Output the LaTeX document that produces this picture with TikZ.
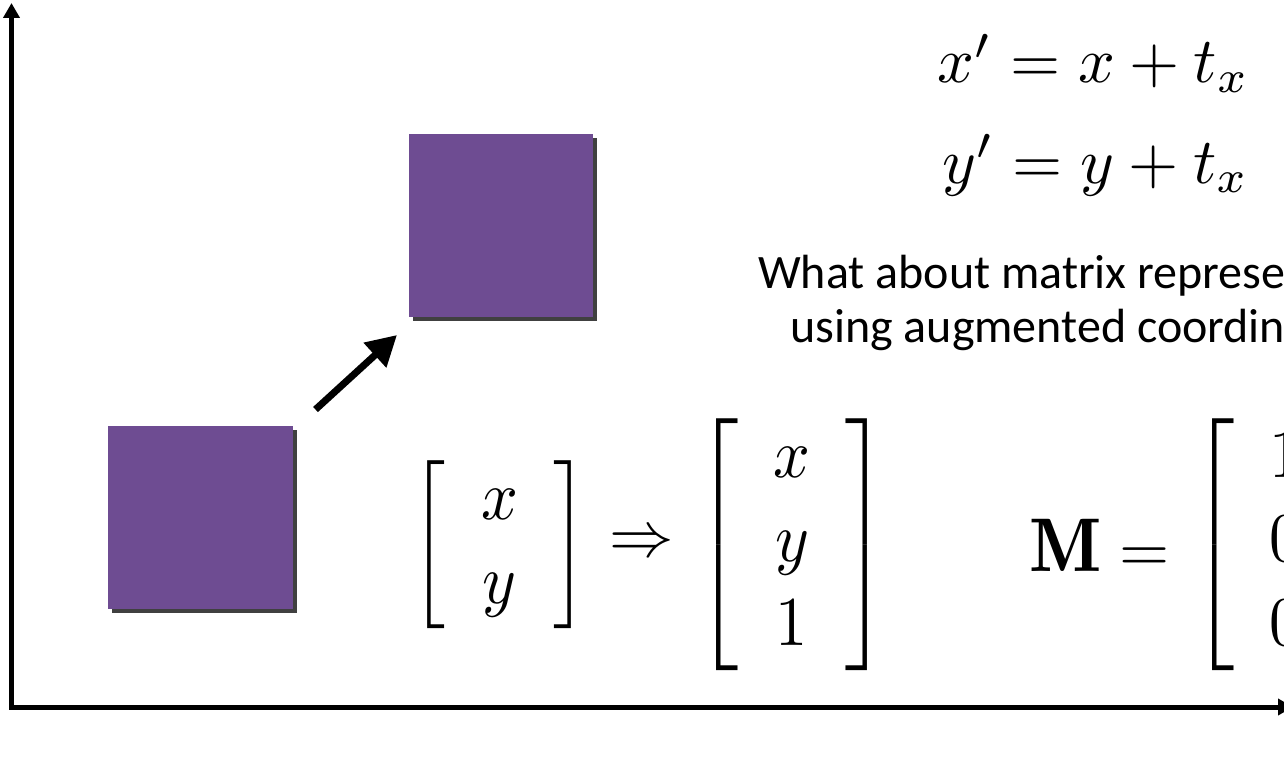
\documentclass[tikz,border=0pt]{standalone}
\usepackage{amsmath}
\usepackage{fontspec}
\setsansfont{Carlito}
\usetikzlibrary{arrows.meta,shadows}
\definecolor{felt}{RGB}{110,76,146}
\newcommand{\bigeq}[1]{\scalebox{6.45}{$#1$}}
\newcommand{\bigvec}[1]{\scalebox{6.45}[7.0]{$\arraycolsep=5.5pt\renewcommand{\arraystretch}{1.0}#1$}}
\tikzset{
  axisline/.style={line width=5pt, line join=miter,
    {Triangle[length=15pt,width=16pt]}-{Triangle[length=15pt,width=16pt]}},
  movearrow/.style={line width=7pt, -{Triangle[length=30pt,width=32pt]}},
  feltsquare/.style={fill=felt, draw=none, inner sep=0pt,
    drop shadow={shadow xshift=4pt, shadow yshift=-4pt, fill=black, opacity=0.75}},
  eq/.style={inner sep=0pt},
  note/.style={inner sep=0pt, font=\sffamily\fontsize{48}{54}\selectfont}
}
\begin{document}
\begin{tikzpicture}[x=1pt,y=-1pt]
\useasboundingbox (0,0) rectangle (1284,765);
\clip (0,0) rectangle (1284,765);
\fill[white] (0,0) rectangle (1284,765);
% axes
\coordinate (ytop) at (11.5,3);
\coordinate (orig) at (11.5,707);
\coordinate (xend) at (1293,707);
\draw[axisline] (ytop) -- (orig) -- (xend);
% squares
\node[feltsquare, minimum width=185pt, minimum height=183pt] (sqA) at (200.5,517.5) {};
\node[feltsquare, minimum width=184pt, minimum height=183pt] (sqB) at (501,225.5) {};
% translation arrow
\coordinate (mvA) at (315.5,409.5);
\coordinate (mvB) at (397,335);
\draw[movearrow] (mvA) -- (mvB);
% equations
\node[eq, anchor=base west] (eqx) at (937,83) {\bigeq{x' = x + t_x}};
\node[eq, anchor=base west] (eqy) at (942,183) {\bigeq{y' = y + t_x}};
% question
\node[note, anchor=base west] (qa) at (758,288) {What about matrix representation};
\node[note, anchor=base west] (qb) at (790,342) {using augmented coordinates?};
% vectors
\node[eq] (vecA) at (499.5,545) {\bigvec{\left[\begin{array}{c} x\\ y\end{array}\right]}};
\node[eq] (impl) at (642,545) {\bigeq{\Rightarrow}};
\node[eq] (vecB) at (792,545) {\bigvec{\left[\begin{array}{c} x\\ y\\ 1\end{array}\right]}};
\node[eq, anchor=east] (Mlab) at (1170,545) {\bigeq{\scalebox{1.18}{$\mathbf{M}$}=}};
\node[eq, anchor=west] (Mmat) at (1191,545) {\bigvec{\left[\begin{array}{ccc} 1 & 0 & t_x\\ 0 & 1 & t_y\\ 0 & 0 & 1\end{array}\right]}};
\end{tikzpicture}
\end{document}
